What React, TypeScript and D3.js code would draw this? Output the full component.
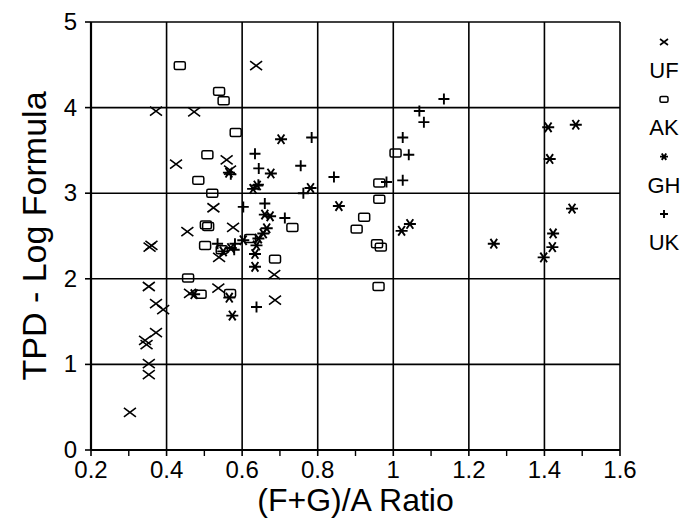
import * as d3 from 'd3'

// (F+G)/A ratio, TPD log formula
const ufX = [0.303, 0.353, 0.353, 0.343, 0.347, 0.372, 0.391, 0.372, 0.353, 0.36, 0.355, 0.372, 0.473, 0.425, 0.637, 0.559, 0.568, 0.524, 0.455, 0.576, 0.539, 0.462, 0.537, 0.687, 0.685]
const ufY = [0.44, 0.88, 1.01, 1.28, 1.23, 1.37, 1.64, 1.71, 1.91, 2.39, 2.37, 3.96, 3.95, 3.34, 4.49, 3.39, 3.27, 2.83, 2.55, 2.6, 2.25, 1.83, 1.89, 1.75, 2.05]

const akX = [0.435, 0.539, 0.551, 0.583, 0.508, 0.484, 0.521, 1.006, 0.963, 0.963, 0.923, 0.903, 0.957, 0.967, 0.961, 0.733, 0.687, 0.504, 0.51, 0.502, 0.546, 0.621, 0.457, 0.49, 0.568]
const akY = [4.49, 4.19, 4.08, 3.71, 3.45, 3.15, 3.0, 3.47, 3.12, 2.93, 2.72, 2.58, 2.41, 2.37, 1.91, 2.6, 2.23, 2.63, 2.61, 2.39, 2.34, 2.47, 2.01, 1.82, 1.83]

const ghX = [0.565, 0.629, 0.64, 0.676, 0.703, 0.781, 0.856, 1.022, 1.044, 1.266, 1.398, 1.421, 1.423, 1.473, 1.41, 1.483, 1.414, 0.66, 0.674, 0.665, 0.656, 0.643, 0.638, 0.634, 0.634, 0.603, 0.55, 0.57, 0.473, 0.566, 0.574]
const ghY = [3.24, 3.05, 3.09, 3.23, 3.63, 3.06, 2.85, 2.56, 2.64, 2.41, 2.25, 2.37, 2.53, 2.82, 3.77, 3.8, 3.4, 2.75, 2.73, 2.59, 2.53, 2.47, 2.39, 2.29, 2.14, 2.45, 2.32, 2.36, 1.82, 1.78, 1.57]

const ukX = [1.134, 1.069, 1.081, 0.784, 1.025, 1.041, 0.634, 0.644, 0.755, 0.843, 0.982, 1.025, 0.643, 0.762, 0.57, 0.603, 0.66, 0.713, 0.535, 0.581, 0.579, 0.638]
const ukY = [4.1, 3.96, 3.83, 3.65, 3.65, 3.45, 3.46, 3.29, 3.32, 3.19, 3.13, 3.15, 3.1, 3.0, 3.22, 2.84, 2.88, 2.71, 2.41, 2.41, 2.34, 1.67]

const xTicks = [0.2, 0.4, 0.6, 0.8, 1, 1.2, 1.4, 1.6]
const xMinor = [0.3, 0.5, 0.7, 0.9, 1.1, 1.3, 1.5]
const yTicks = [0, 1, 2, 3, 4, 5]
const groups = ['UF', 'AK', 'GH', 'UK']

const W = 683
const H = 525
const font = 'Arial, "Liberation Sans", Helvetica, sans-serif'

function Marker({ kind, x, y, s }: { kind: string; x: number; y: number; s: number }) {
  if (kind === 'UF') {
    return <path d={`M${x - s},${y - s * 0.75}L${x + s},${y + s * 0.75}M${x - s},${y + s * 0.75}L${x + s},${y - s * 0.75}`} stroke="#000" strokeWidth={1.6} />
  }
  if (kind === 'AK') {
    return <rect x={x - s} y={y - s * 0.72} width={s * 2} height={s * 1.44} rx={1.5} fill="none" stroke="#000" strokeWidth={1.5} />
  }
  if (kind === 'GH') {
    const a = s, b = s * 0.8
    return <path d={`M${x - a},${y}L${x + a},${y}M${x - b * 0.7},${y - b}L${x + b * 0.7},${y + b}M${x - b * 0.7},${y + b}L${x + b * 0.7},${y - b}`} stroke="#000" strokeWidth={1.9} />
  }
  return <path d={`M${x - s},${y}L${x + s},${y}M${x},${y - s}L${x},${y + s}`} stroke="#000" strokeWidth={1.9} />
}

export default function App() {
  const x = d3.scaleLinear().domain([0.2, 1.6]).range([91, 620])
  const y = d3.scaleLinear().domain([0, 5]).range([450, 22])

  const series = [
    { key: 'UF', xs: ufX, ys: ufY, s: 6 },
    { key: 'AK', xs: akX, ys: akY, s: 5.5 },
    { key: 'GH', xs: ghX, ys: ghY, s: 6 },
    { key: 'UK', xs: ukX, ys: ukY, s: 5.5 },
  ]
  const legendY = d3.scaleLinear().domain([0, 3]).range([42, 214])

  return (
    <svg width={W} height={H} style={{ position: 'absolute', left: 0, top: 0, background: '#fff' }} fontFamily={font}>
      {/* grid */}
      {xTicks.map((t) => (
        <line key={'gx' + t} x1={x(t)} x2={x(t)} y1={y(0)} y2={y(5)} stroke="#000" strokeWidth={1.6} />
      ))}
      {yTicks.map((t) => (
        <line key={'gy' + t} x1={x(0.2)} x2={x(1.6)} y1={y(t)} y2={y(t)} stroke="#000" strokeWidth={1.6} />
      ))}
      <line x1={x(0.2)} x2={x(0.2)} y1={y(0)} y2={y(5)} stroke="#000" strokeWidth={2.2} />
      <line x1={x(0.2)} x2={x(1.6)} y1={y(0)} y2={y(0)} stroke="#000" strokeWidth={2.2} />
      {/* ticks */}
      {xTicks.map((t) => (
        <line key={'tx' + t} x1={x(t)} x2={x(t)} y1={y(0)} y2={y(0) + 6} stroke="#000" strokeWidth={1.6} />
      ))}
      {xMinor.map((t) => (
        <line key={'mx' + t} x1={x(t)} x2={x(t)} y1={y(0)} y2={y(0) + 6} stroke="#000" strokeWidth={1.4} />
      ))}
      {yTicks.map((t) => (
        <line key={'ty' + t} x1={x(0.2) - 6} x2={x(0.2)} y1={y(t)} y2={y(t)} stroke="#000" strokeWidth={1.6} />
      ))}
      {xTicks.map((t) => (
        <text key={'lx' + t} x={x(t)} y={y(0) + 28} fontSize={24} textAnchor="middle">{d3.format('')(t)}</text>
      ))}
      {yTicks.map((t) => (
        <text key={'ly' + t} x={x(0.2) - 14} y={y(t) + 8} fontSize={24} textAnchor="end">{t}</text>
      ))}
      {/* points */}
      {series.map((sr) => (
        <g key={sr.key}>
          {sr.xs.map((v, i) => (
            <Marker key={i} kind={sr.key} x={x(v)} y={y(sr.ys[i])} s={sr.s} />
          ))}
        </g>
      ))}
      {/* axis titles */}
      <text x={(x(0.2) + x(1.6)) / 2} y={511} fontSize={32} textAnchor="middle">(F+G)/A Ratio</text>
      <text transform={`translate(46,${(y(0) + y(5)) / 2}) rotate(-90)`} fontSize={34} textAnchor="middle">TPD - Log Formula</text>
      {/* legend */}
      {groups.map((g, i) => (
        <g key={'lg' + g}>
          <Marker kind={g} x={664} y={legendY(i)} s={4} />
          <text x={664} y={legendY(i) + 36} fontSize={22} textAnchor="middle">{g}</text>
        </g>
      ))}
    </svg>
  )
}
